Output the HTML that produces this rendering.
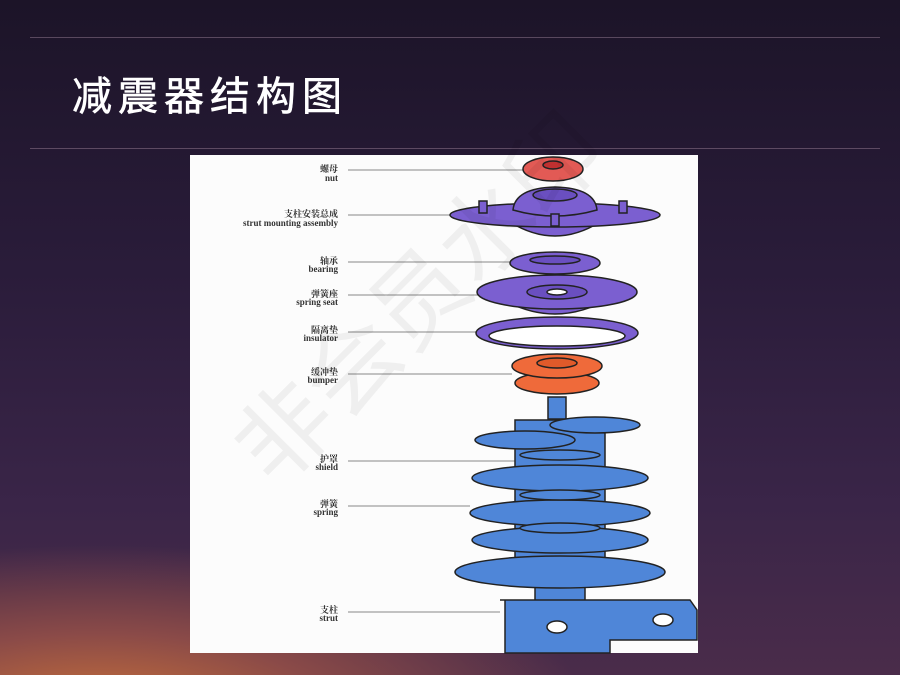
<!DOCTYPE html>
<html><head><meta charset="utf-8"><style>
html,body{margin:0;padding:0}
body{width:900px;height:675px;overflow:hidden;position:relative;
background:radial-gradient(ellipse 650px 220px at 100px 710px,#c8703a 0%,#8a4a48 35%,rgba(80,40,80,0) 75%),linear-gradient(180deg,#1c1428 0%,#2a1c3a 40%,#3a2548 75%,#4a2c4a 100%);}
.t{position:absolute;left:72px;top:64px;color:#fff;font:40px "Liberation Sans","Noto Sans CJK SC",sans-serif;letter-spacing:6px;-webkit-text-stroke:0.6px #fff}
.ln{position:absolute;left:30px;width:850px;height:1px;background:rgba(200,170,190,.35)}
</style></head><body>
<div class="ln" style="top:37px"></div>
<div class="ln" style="top:148px"></div>
<div class="t">减震器结构图</div>
<svg width="900" height="675" style="position:absolute;left:0;top:0" font-family="'Liberation Serif','Noto Serif CJK SC',serif">
<rect x="190" y="155" width="508" height="498" fill="#fcfcfc"/>
<g stroke="#888" stroke-width="1">
<line x1="348" y1="170" x2="524" y2="170"/><line x1="348" y1="215" x2="450" y2="215"/>
<line x1="348" y1="262" x2="512" y2="262"/><line x1="348" y1="295" x2="480" y2="295"/>
<line x1="348" y1="332" x2="478" y2="332"/><line x1="348" y1="374" x2="512" y2="374"/>
<line x1="348" y1="461" x2="520" y2="461"/><line x1="348" y1="506" x2="470" y2="506"/>
<line x1="348" y1="612" x2="500" y2="612"/></g>
<g font-size="9" fill="#333" text-anchor="end" font-weight="bold">
<text x="338" y="172">螺母</text><text x="338" y="181">nut</text>
<text x="338" y="217">支柱安装总成</text><text x="338" y="226">strut mounting assembly</text>
<text x="338" y="264">轴承</text><text x="338" y="272">bearing</text>
<text x="338" y="297">弹簧座</text><text x="338" y="305">spring seat</text>
<text x="338" y="333">隔离垫</text><text x="338" y="341">insulator</text>
<text x="338" y="375">缓冲垫</text><text x="338" y="383">bumper</text>
<text x="338" y="462">护罩</text><text x="338" y="470">shield</text>
<text x="338" y="507">弹簧</text><text x="338" y="515">spring</text>
<text x="338" y="613">支柱</text><text x="338" y="621">strut</text></g>
<g stroke="#222" stroke-width="1.5">
<ellipse cx="553" cy="169" rx="30" ry="12" fill="#e25a55"/>
<ellipse cx="553" cy="165" rx="10" ry="4" fill="#c03030"/>
<path d="M510 222 Q555 250 600 222 Z" fill="#7b5fd0"/>
<ellipse cx="555" cy="215" rx="105" ry="12" fill="#7b5fd0"/>
<path d="M513 210 Q515 188 555 187 Q595 188 597 210 Q555 222 513 210Z" fill="#7b5fd0"/>
<ellipse cx="555" cy="195" rx="22" ry="6" fill="#6a4fc0"/>
<rect x="479" y="201" width="8" height="12" fill="#7b5fd0"/><rect x="619" y="201" width="8" height="12" fill="#7b5fd0"/><rect x="551" y="214" width="8" height="12" fill="#7b5fd0"/>
<ellipse cx="555" cy="263" rx="45" ry="11" fill="#7b5fd0"/><ellipse cx="555" cy="260" rx="25" ry="4" fill="#6a4fc0"/>
<path d="M500 298 Q555 330 610 298Z" fill="#7b5fd0"/>
<ellipse cx="557" cy="292" rx="80" ry="17" fill="#7b5fd0"/>
<ellipse cx="557" cy="292" rx="30" ry="7" fill="#6a4fc0"/><ellipse cx="557" cy="292" rx="10" ry="3" fill="#fff"/>
<ellipse cx="557" cy="333" rx="81" ry="16" fill="#7b5fd0"/><ellipse cx="557" cy="336" rx="68" ry="10" fill="#fff"/>
<ellipse cx="557" cy="383" rx="42" ry="11" fill="#ef6a3a"/>
<rect x="530" y="368" width="54" height="14" fill="#ef6a3a" stroke="none"/>
<ellipse cx="557" cy="366" rx="45" ry="12" fill="#ef6a3a"/><ellipse cx="557" cy="363" rx="20" ry="5" fill="#e05a2a"/>
<rect x="548" y="397" width="18" height="22" fill="#4f86d8"/>
<rect x="515" y="420" width="90" height="140" fill="#4f86d8"/>
<g fill="#4f86d8">
<ellipse cx="525" cy="440" rx="50" ry="9"/><ellipse cx="595" cy="425" rx="45" ry="8"/>
<ellipse cx="560" cy="478" rx="88" ry="13"/><ellipse cx="560" cy="513" rx="90" ry="13"/>
<ellipse cx="560" cy="540" rx="88" ry="13"/>
<rect x="535" y="575" width="50" height="30"/>
<ellipse cx="560" cy="572" rx="105" ry="16"/>
</g>
<g fill="#4f86d8"><ellipse cx="560" cy="455" rx="40" ry="5"/><ellipse cx="560" cy="495" rx="40" ry="5"/><ellipse cx="560" cy="528" rx="40" ry="5"/></g>
<path d="M500 600 L610 600 L690 600 L697 610 L697 640 L610 640 L610 653 L505 653 L505 600Z" fill="#4f86d8"/>
<ellipse cx="557" cy="627" rx="10" ry="6" fill="#fff"/><ellipse cx="663" cy="620" rx="10" ry="6" fill="#fff"/>
</g>
<text x="0" y="0" font-size="95" fill="rgba(0,0,0,0.05)" font-family="'Liberation Sans','Noto Sans CJK SC',sans-serif" transform="translate(275,490) rotate(-45)">非会员水印</text>
</svg>
</body></html>
